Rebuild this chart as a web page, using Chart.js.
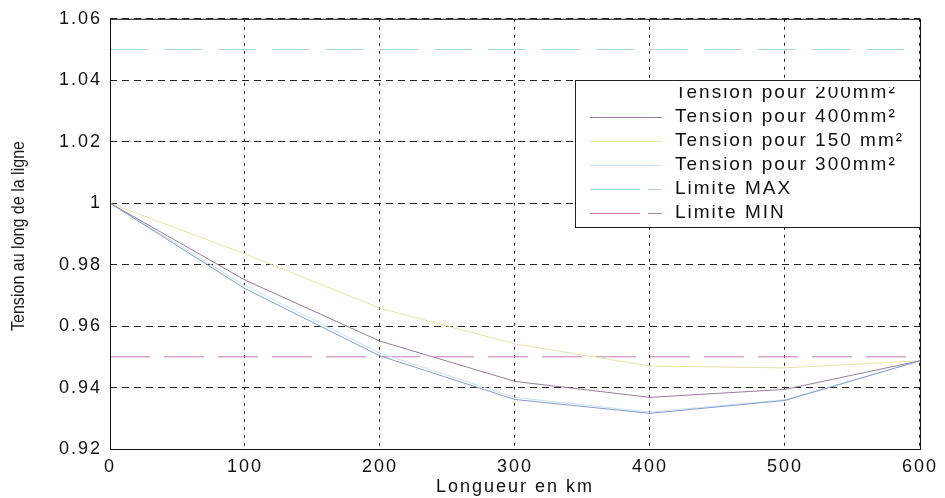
<!DOCTYPE html>
<html>
<head>
<meta charset="utf-8">
<script src="https://cdn.jsdelivr.net/npm/chart.js@4.4.1/dist/chart.umd.min.js"></script>
<style>
    html, body { margin: 0; padding: 0; background: #fff; }
    #wrap { width: 945px; height: 498px; }
</style>
</head>
<body>
<div id="wrap"><canvas id="tension" width="945" height="498"></canvas></div>
<script>
// longueur de la ligne (km)
const distances = [0, 100, 200, 300, 400, 500, 600];

// tension relative le long de la ligne, par section
const tension200 = [1.0, 0.9722, 0.9503, 0.9361, 0.9316, 0.9358, 0.9487];
const tension400 = [1.0, 0.975, 0.9551, 0.942, 0.9368, 0.9394, 0.9487];
const tension150 = [1.0, 0.9835, 0.9658, 0.9542, 0.947, 0.9464, 0.9487];
const tension300 = [1.0, 0.9732, 0.9512, 0.9368, 0.932, 0.936, 0.9487];

const limiteMax = [1.05, 1.05, 1.05, 1.05, 1.05, 1.05, 1.05];
const limiteMin = [0.95, 0.95, 0.95, 0.95, 0.95, 0.95, 0.95];

const yTicks = [0.92, 0.94, 0.96, 0.98, 1.0, 1.02, 1.04, 1.06];

const labels = [
    "Tension pour 200mm²",
    "Tension pour 400mm²",
    "Tension pour 150 mm²",
    "Tension pour 300mm²",
    "Limite MAX",
    "Limite MIN",
];

function points(values) {
    return distances.map((d, i) => ({ x: d, y: values[i] }));
}

function serie(label, values, color, dash) {
    return {
        label: label,
        data: points(values),
        borderColor: color,
        borderWidth: 1,
        borderDash: dash || [],
        pointRadius: 0,
        tension: 0,
        fill: false,
    };
}

const datasets = [
    serie(labels[0], tension200, "#829bd6"),
    serie(labels[1], tension400, "#987c9c"),
    serie(labels[2], tension150, "#e4e4a4"),
    serie(labels[3], tension300, "#c6e2ea"),
    serie(labels[4], limiteMax, "#a6d6e6", [38, 16]),
    serie(labels[5], limiteMin, "#c879b2", [40, 14]),
];

const FONT = "'Liberation Sans', Arial, sans-serif";

// espacement des lettres, comme sur le tracé d'origine
const spacing = {
    id: "spacing",
    beforeUpdate(chart) { chart.ctx.letterSpacing = "2px"; },
    beforeDraw(chart) { chart.ctx.letterSpacing = "2px"; },
};

// cadre, titre vertical et légende dans le tracé
const habillage = {
    id: "habillage",
    afterDatasetsDraw(chart) {
        const ctx = chart.ctx;
        const a = chart.chartArea;

        ctx.save();
        ctx.strokeStyle = "#111";
        ctx.lineWidth = 1;
        ctx.setLineDash([]);
        ctx.strokeRect(a.left + 0.5, a.top + 0.5, a.right - a.left, a.bottom - a.top);
        ctx.restore();

        // titre de l'axe y, resserré
        ctx.save();
        ctx.letterSpacing = "0px";
        ctx.translate(19, 236);
        ctx.rotate(-Math.PI / 2);
        ctx.font = "18px " + FONT;
        ctx.fillStyle = "#1a1a1a";
        ctx.textAlign = "center";
        ctx.textBaseline = "middle";
        ctx.fillText("Tension au long de la ligne", 0, 0, 190);
        ctx.restore();

        // légende
        const box = { left: 575, top: 80, right: a.right, bottom: 227 };
        ctx.save();
        ctx.fillStyle = "#fff";
        ctx.fillRect(box.left, box.top, box.right - box.left, box.bottom - box.top);
        ctx.strokeStyle = "#222";
        ctx.lineWidth = 1;
        ctx.strokeRect(box.left + 0.5, box.top + 0.5, box.right - box.left, box.bottom - box.top);
        ctx.beginPath();
        ctx.rect(box.left + 1, box.top + 7, box.right - box.left - 2, box.bottom - box.top - 8);
        ctx.clip();
        ctx.font = "19px " + FONT;
        ctx.textBaseline = "middle";
        chart.data.datasets.forEach((ds, i) => {
            const y = 93 + i * 24;
            if (i > 0) {
                ctx.strokeStyle = ds.borderColor;
                ctx.lineWidth = 1;
                ctx.setLineDash(i >= 4 ? [50, 8] : []);
                ctx.beginPath();
                ctx.moveTo(590, y + 0.5);
                ctx.lineTo(662, y + 0.5);
                ctx.stroke();
            }
            ctx.fillStyle = "#111";
            ctx.fillText(ds.label, 675, y);
        });
        ctx.restore();
    },
};

const tickFont = { family: FONT, size: 18 };

new Chart(document.getElementById("tension"), {
    type: "line",
    data: { datasets: datasets },
    plugins: [spacing, habillage],
    options: {
        responsive: false,
        animation: false,
        layout: { padding: { top: 16, right: 20, left: 0, bottom: 0 } },
        plugins: {
            legend: { display: false },
            tooltip: { enabled: false },
        },
        scales: {
            x: {
                type: "linear",
                min: 0,
                max: 600,
                afterFit: (scale) => { scale.height = 49; },
                ticks: { stepSize: 100, color: "#111", font: tickFont, padding: 7, maxRotation: 0 },
                grid: { color: "#222", lineWidth: 1, drawTicks: false },
                border: { display: false, dash: [3, 5] },
                title: {
                    display: true,
                    text: "Longueur en km",
                    color: "#111",
                    font: { family: FONT, size: 18 },
                    padding: { top: 0, bottom: 0 },
                },
            },
            y: {
                type: "linear",
                min: 0.92,
                max: 1.06,
                afterFit: (scale) => { scale.width = 110; },
                afterBuildTicks: (scale) => { scale.ticks = yTicks.map((v) => ({ value: v })); },
                ticks: {
                    color: "#111",
                    font: tickFont,
                    padding: 8,
                    callback: (v) => String(Number(v.toFixed(2))),
                },
                grid: { color: "#222", lineWidth: 1, drawTicks: false },
                border: { display: false, dash: [7, 5] },
            },
        },
    },
});
</script>
</body>
</html>
